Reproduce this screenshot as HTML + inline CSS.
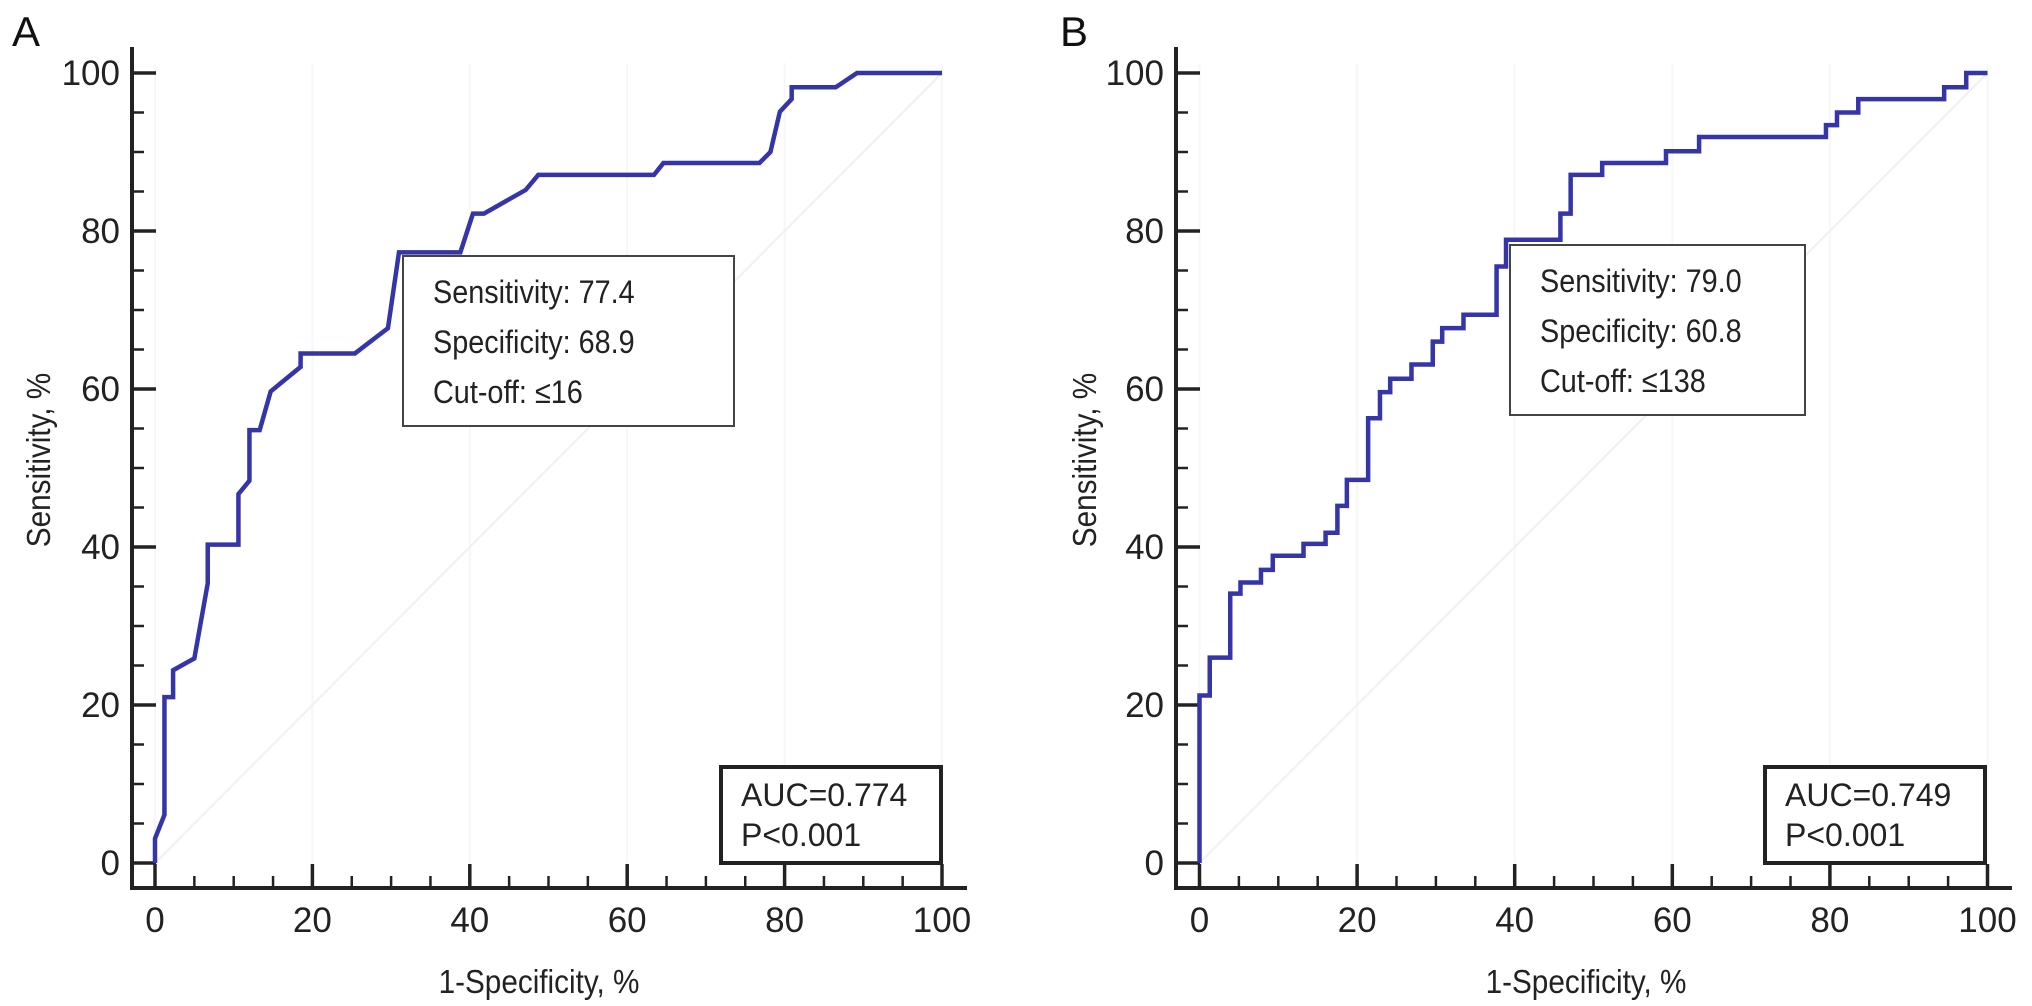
<!DOCTYPE html>
<html><head><meta charset="utf-8"><style>
html,body{margin:0;padding:0;background:#fff;}
svg{display:block;font-family:"Liberation Sans",Arial,sans-serif;}
</style></head><body>
<svg id="fig" width="2032" height="1006" viewBox="0 0 2032 1006" xmlns="http://www.w3.org/2000/svg"></svg>
<script>
// Panel A ROC curve (1-specificity %, sensitivity %)
const fprA = [0,0,1.2,1.2,2.3,2.3,5.0,6.7,6.7,10.6,10.6,12.0,12.0,13.3,14.7,18.5,18.5,25.4,29.6,31.0,38.8,40.4,41.8,47.1,48.7,63.4,64.6,76.8,78.2,79.4,80.9,80.9,86.5,89.2,100];
const tprA = [0,3.1,6.1,21,21,24.4,25.9,35.4,40.3,40.3,46.7,48.4,54.8,54.8,59.7,62.8,64.5,64.5,67.7,77.3,77.3,82.2,82.2,85.2,87.1,87.1,88.6,88.6,90.0,95.1,96.7,98.2,98.2,100,100];
// Panel B ROC curve (step corners)
const fprB = [0,0,1.3,3.9,5.2,7.8,9.3,13.2,16.0,17.5,18.7,21.4,22.9,24.2,26.9,29.6,30.8,33.5,37.7,38.9,45.8,47.1,51.1,59.2,63.4,79.5,80.9,83.6,94.5,97.3,100];
const tprB = [0,21.2,26.0,34.1,35.5,37.1,38.9,40.4,41.8,45.2,48.5,56.3,59.6,61.3,63.1,66.0,67.7,69.4,75.5,78.9,82.2,87.1,88.6,90.1,91.9,93.4,95.0,96.7,98.2,100,100];
const xTicks = [0,20,40,60,80,100];
const yTicks = [0,20,40,60,80,100];
const infoA = ["Sensitivity: 77.4","Specificity: 68.9","Cut-off: \u226416"];
const infoB = ["Sensitivity: 79.0","Specificity: 60.8","Cut-off: \u2264138"];
const aucA = ["AUC=0.774","P<0.001"];
const aucB = ["AUC=0.749","P<0.001"];

const NS="http://www.w3.org/2000/svg";
const svg=document.getElementById('fig');
function mk(tag,attrs,parent,text){const e=document.createElementNS(NS,tag);for(const k in attrs)e.setAttribute(k,attrs[k]);if(text!==undefined)e.textContent=text;(parent||svg).appendChild(e);return e;}
function condense(e,f){const w=e.getComputedTextLength();e.setAttribute('textLength',(w*f).toFixed(1));e.setAttribute('lengthAdjust','spacingAndGlyphs');}

function panel(cfg){
  const g=mk('g',{});
  
  
  const X=v=>cfg.x0+v*(cfg.x100-cfg.x0)/100;
  const Y=v=>863-v*7.9;
  for(const t of xTicks){const l=mk('line',{x1:X(t),x2:X(t),y1:Y(100)-10,y2:Y(0),stroke:'#f7f7f7','stroke-width':2},g);
    }
  const dg=mk('line',{x1:X(0),y1:Y(0),x2:X(100),y2:Y(100),stroke:'#f0f0f0','stroke-width':2},g);
  
  const ya=mk('line',{x1:cfg.ax,x2:cfg.ax,y1:47,y2:888,stroke:'#222','stroke-width':4},g);
  
  const xa=mk('line',{x1:cfg.ax-2,x2:cfg.xend,y1:888,y2:888,stroke:'#222','stroke-width':4},g);
  
  for(let v=0;v<=100;v+=5){
    const maj=v%20===0;
    const t=mk('line',{x1:X(v),x2:X(v),y1:888,y2:maj?864:876,stroke:'#222','stroke-width':maj?3.5:2.5},g);
    
    const u=mk('line',{x1:cfg.ax,x2:cfg.ax+(maj?24:12),y1:Y(v),y2:Y(v),stroke:'#222','stroke-width':maj?3.5:2.5},g);
    
  }
  for(const t of xTicks){const e=mk('text',{x:X(t),y:932,'font-size':35,'text-anchor':'middle',fill:'#222'},g,String(t));
    }
  for(const t of yTicks){const e=mk('text',{x:cfg.ax-12,y:Y(t)+12,'font-size':35,'text-anchor':'end',fill:'#222'},g,String(t));
    }
  const xt=mk('text',{x:cfg.xtitle,y:993,'font-size':33,'text-anchor':'middle',fill:'#222'},g,'1-Specificity, %');
  
  condense(xt,0.9);
  const yt=mk('text',{x:0,y:0,'font-size':33,'text-anchor':'middle',fill:'#222',transform:`translate(${cfg.ytitle},460) rotate(-90)`},g,'Sensitivity, %');
  
  condense(yt,0.9);
  const pl=mk('text',{x:cfg.letterX,y:46,'font-size':42,fill:'#111'},g,cfg.id);
  
  let d='';
  const xs=cfg.fpr, ys=cfg.tpr;
  for(let i=0;i<xs.length;i++){
    if(i===0)d+=`M${X(xs[0])},${Y(ys[0])}`;
    else if(cfg.step)d+=` L${X(xs[i])},${Y(ys[i-1])} L${X(xs[i])},${Y(ys[i])}`;
    else d+=` L${X(xs[i])},${Y(ys[i])}`;
  }
  const c=mk('path',{d:d,fill:'none',stroke:'#3535a8','stroke-width':4.5,'stroke-linejoin':'miter'},g);
  
  const ib=mk('g',{},g);
  
  mk('rect',{x:cfg.ib[0],y:cfg.ib[1],width:cfg.ib[2],height:cfg.ib[3],fill:'#fff',stroke:'#444','stroke-width':2},ib);
  cfg.info.forEach((s,i)=>{const e=mk('text',{x:cfg.ib[0]+30,y:cfg.ib[1]+47+i*50,'font-size':32,fill:'#222'},ib,s);
    
    condense(e,0.9);});
  const ab=mk('g',{},g);
  
  mk('rect',{x:cfg.ab,y:767,width:220,height:96,fill:'#fff',stroke:'#222','stroke-width':4},ab);
  cfg.auc.forEach((s,i)=>{const e=mk('text',{x:cfg.ab+20,y:806+i*40,'font-size':32,fill:'#222'},ab,s);
    });
}
panel({id:'A',x0:155,x100:942,ax:132,xend:967,xtitle:539,ytitle:50,letterX:12,fpr:fprA,tpr:tprA,step:false,
  ib:[403,256,331,170],info:infoA,ab:721,auc:aucA});
panel({id:'B',x0:1199.5,x100:1987.5,ax:1176,xend:2012,xtitle:1586,ytitle:1096,letterX:1060,fpr:fprB,tpr:tprB,step:true,
  ib:[1510,245,295,170],info:infoB,ab:1765,auc:aucB});
</script>
</body></html>
